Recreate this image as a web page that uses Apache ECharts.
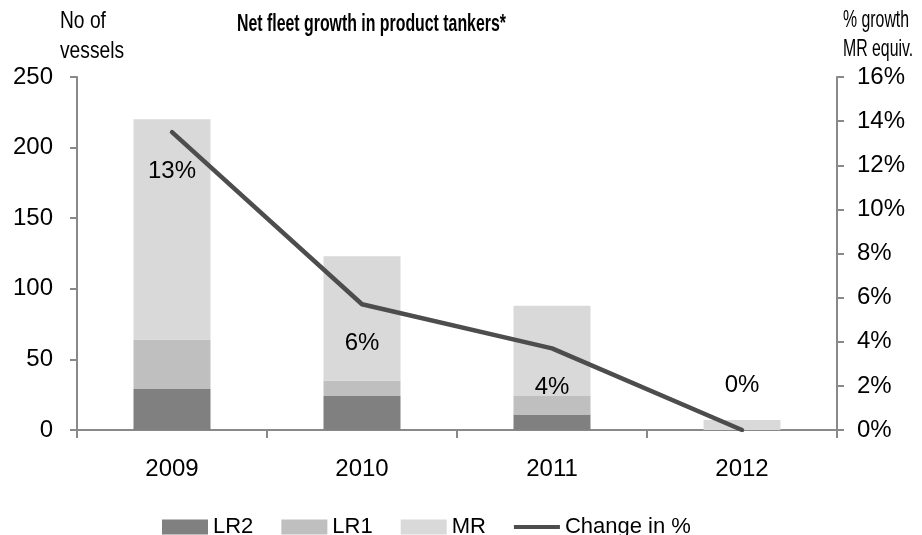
<!DOCTYPE html>
<html>
<head>
<meta charset="utf-8">
<script src="https://cdn.jsdelivr.net/npm/echarts@6/dist/echarts.min.js"></script>
<style>html,body{margin:0;padding:0;background:#fff;}#c{width:922px;height:535px;}</style>
</head>
<body>
<div id="c"></div>
<script>
var years = ['2009', '2010', '2011', '2012'];
var lr2 = [29, 24, 11, 0];
var lr1 = [35, 11, 13, 0];
var mr = [156, 88, 64, 7];
var changePct = [13.5, 5.7, 3.7, 0];
var changeLabels = ['13%', '6%', '4%', '0%'];
var leftTicks = [0, 50, 100, 150, 200, 250];
var rightTicks = [0, 2, 4, 6, 8, 10, 12, 14, 16];

var FONT = 'Liberation Sans, Arial, sans-serif';
var NARROW = '"Liberation Sans Narrow", "Arial Narrow", "Liberation Sans", Arial, sans-serif';
var chart = echarts.init(document.getElementById('c'), null, {renderer: 'canvas'});
var axisCol = '#898989';
var lineCol = '#4d4d4d';

var lineData = changePct.map(function (v, i) {
  var last = i === changePct.length - 1;
  return {
    value: v,
    label: {
      show: true,
      formatter: changeLabels[i],
      position: last ? 'top' : 'bottom',
      distance: last ? 32 : 26
    }
  };
});

chart.setOption({
  animation: false,
  backgroundColor: '#fff',
  textStyle: {fontFamily: FONT},
  graphic: [
    {type: 'text', left: 237, top: 13, scaleX: 0.69,
     style: {text: 'Net fleet growth in product tankers*', font: 'bold 23px ' + FONT, fill: '#000'}},
    {type: 'text', left: 60, top: 6, scaleX: 0.8,
     style: {text: 'No of\nvessels', font: '24px ' + FONT, lineHeight: 30, fill: '#000'}},
    {type: 'text', left: 843, top: 6, scaleX: 0.66,
     style: {text: '% growth\nMR equiv.', font: '24px ' + FONT, lineHeight: 29, fill: '#000'}}
  ],
  legend: {
    top: 511,
    left: 157,
    itemWidth: 46,
    itemHeight: 15,
    itemGap: 28,
    textStyle: {fontFamily: NARROW, fontSize: 22, color: '#000'},
    data: [
      {name: 'LR2', icon: 'rect'},
      {name: 'LR1', icon: 'rect'},
      {name: 'MR', icon: 'rect'},
      {name: 'Change in %', icon: 'path://M0,0 L50,0 L50,4.5 L0,4.5 Z', itemStyle: {color: lineCol, opacity: 1}}
    ]
  },
  grid: {left: 77, right: 85, top: 77, bottom: 105, containLabel: false},
  xAxis: {
    type: 'category',
    data: years,
    axisLine: {lineStyle: {color: axisCol, width: 2}},
    axisTick: {show: true, length: 8, lineStyle: {color: axisCol, width: 2}},
    axisLabel: {fontFamily: FONT, fontSize: 24, color: '#000', margin: 27}
  },
  yAxis: [
    {
      type: 'value', min: 0, max: 250, interval: 50,
      axisLine: {show: true, lineStyle: {color: axisCol, width: 2}},
      axisTick: {show: true, length: 7, lineStyle: {color: axisCol, width: 2}},
      splitLine: {show: false},
      axisLabel: {fontFamily: FONT, fontSize: 24, color: '#000', margin: 24,
        formatter: function (v) { return leftTicks.indexOf(v) >= 0 ? String(v) : ''; }}
    },
    {
      type: 'value', min: 0, max: 16, interval: 2, position: 'right',
      axisLine: {show: true, lineStyle: {color: axisCol, width: 2}},
      axisTick: {show: true, length: 7, lineStyle: {color: axisCol, width: 2}},
      splitLine: {show: false},
      axisLabel: {fontFamily: FONT, fontSize: 24, color: '#000', margin: 20,
        formatter: function (v) { return rightTicks.indexOf(v) >= 0 ? v + '%' : ''; }}
    }
  ],
  series: [
    {name: 'LR2', type: 'bar', stack: 'f', data: lr2, barWidth: 77, itemStyle: {color: '#808080'}},
    {name: 'LR1', type: 'bar', stack: 'f', data: lr1, barWidth: 77, itemStyle: {color: '#bfbfbf'}},
    {name: 'MR', type: 'bar', stack: 'f', data: mr, barWidth: 77, itemStyle: {color: '#d9d9d9'}},
    {
      name: 'Change in %', type: 'line', yAxisIndex: 1, data: lineData,
      symbol: 'circle', symbolSize: 2, showSymbol: true,
      lineStyle: {color: lineCol, width: 4.5, cap: 'round', join: 'round'},
      itemStyle: {color: lineCol},
      label: {show: true, fontFamily: FONT, fontSize: 24, color: '#000'},
      labelLayout: {hideOverlap: false},
      z: 5
    }
  ]
});
</script>
</body>
</html>
